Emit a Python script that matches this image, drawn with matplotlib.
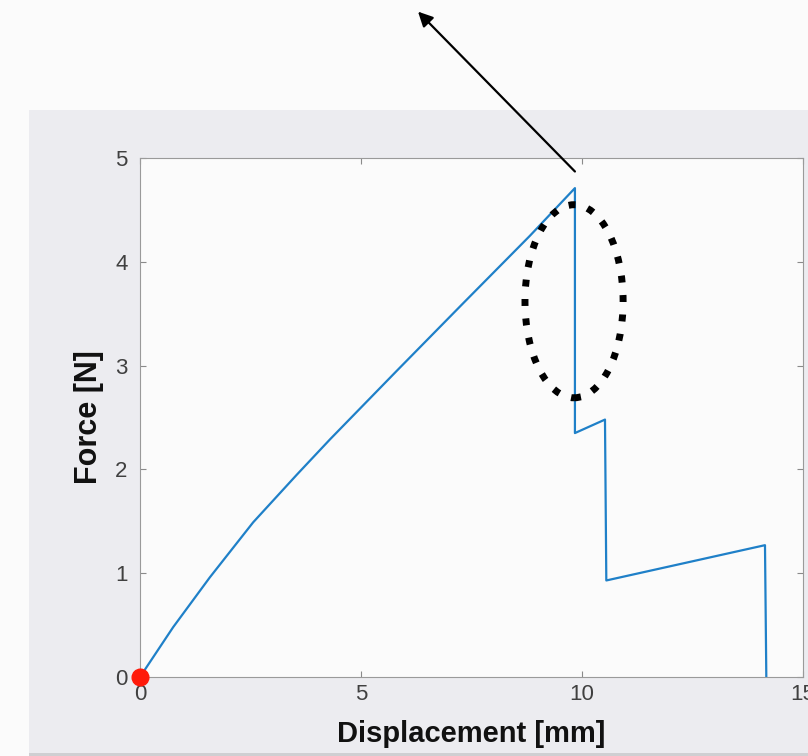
import matplotlib as mpl
mpl.use('Agg')
import matplotlib.pyplot as plt
from matplotlib.patches import Ellipse, Rectangle

# force-displacement curve (mm, N)
displacement = [0, 0.75, 1.58, 2.56, 3.55, 4.30, 5.81, 7.31, 8.82, 9.84,
                9.84, 10.52, 10.55, 14.14, 14.17]
force = [0, 0.48, 0.96, 1.49, 1.95, 2.29, 2.95, 3.60, 4.25, 4.71,
         2.35, 2.48, 0.93, 1.27, 0.0]

x_ticks = [0, 5, 10, 15]
y_ticks = [0, 1, 2, 3, 4, 5]

W, H = 808, 756
fig = plt.figure(figsize=(W / 100, H / 100), dpi=100, facecolor='#fbfbfb')

# grey panel behind the axes
fig.patches.append(Rectangle((29 / W, 3 / H), 1, (H - 110 - 3) / H,
                             transform=fig.transFigure, facecolor='#ececf0',
                             edgecolor='none', zorder=-10))
fig.patches.append(Rectangle((29 / W, 0), 1, 3 / H, transform=fig.transFigure,
                             facecolor='#cfcfd2', edgecolor='none', zorder=-10))

ax = fig.add_axes([140 / W, (H - 677) / H, 663 / W, 519 / H])
ax.set_facecolor('#fbfbfb')

ax.plot(displacement, force, color='#1f80c8', lw=1.6, zorder=3)
ax.plot(0, 0, 'o', color='#ff1a0a', ms=12, clip_on=False, zorder=4)

ax.set_xlim(0, 15)
ax.set_ylim(0, 5)
ax.set_xticks(x_ticks)
ax.set_yticks(y_ticks)
ax.tick_params(direction='in', length=4, width=0.8, color='#8a8a8a',
               labelsize=16, labelcolor='#404040', top=True, right=True)
ax.tick_params(axis='y', pad=9)
ax.tick_params(axis='x', pad=5)
for s in ax.spines.values():
    s.set_color('#9a9a9a')
    s.set_linewidth(0.8)

ax.set_xlabel('Displacement [mm]', fontsize=21, fontweight='bold',
              family='Liberation Sans', color='#111111', labelpad=11)
ax.set_ylabel('Force [N]', fontsize=22, fontweight='bold',
              family='Liberation Sans', color='#111111', labelpad=8)
for lab in ax.get_xticklabels() + ax.get_yticklabels():
    lab.set_family('Liberation Sans')

# dotted ellipse around the drop
ell = Ellipse((9.82, 3.62), 2.22, 1.86, fill=False, edgecolor='black',
              lw=5, linestyle=(0, (1, 1.8)), zorder=5)
ax.add_patch(ell)

# arrow pointing out of the plot
ax.annotate('', xy=(6.29, 6.41), xytext=(9.84, 4.87),
            xycoords='data', annotation_clip=False,
            arrowprops=dict(arrowstyle='-|>', color='black', lw=1.6,
                            mutation_scale=22, shrinkA=0, shrinkB=0))

fig.savefig('out.png', dpi=100, facecolor=fig.get_facecolor())
